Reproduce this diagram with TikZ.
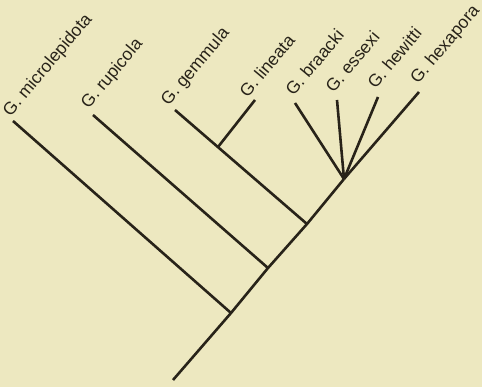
\documentclass[tikz,border=0pt]{standalone}
\usepackage{fontspec}
\setmainfont{Liberation Sans}
\usetikzlibrary{calc}
\definecolor{paper}{RGB}{237,232,192}
\definecolor{ink}{RGB}{40,35,25}
\begin{document}
\begin{tikzpicture}[x=1pt,y=1pt,
  branch/.style={draw=ink,line width=2.6pt},
  taxon/.style={anchor=base west,rotate=50,inner sep=0pt,text=ink,font=\fontsize{17.5}{17.5}\selectfont}]
\fill[paper] (0,0) rectangle (482,387);
\useasboundingbox (0,0) rectangle (482,387);
% internal nodes
\coordinate (root) at (173,7);
\coordinate (n1) at (231,74);
\coordinate (n2) at (268,119);
\coordinate (n3) at (307,163);
\coordinate (n4) at (344,208);
\coordinate (n5) at (218,240);
% tips
\coordinate (t1) at (13,266);
\coordinate (t2) at (93,272);
\coordinate (t3) at (175,277);
\coordinate (t4) at (255,287);
\coordinate (t5) at (295,284);
\coordinate (t6) at (337,287);
\coordinate (t7) at (378,290);
\coordinate (t8) at (419,295);
\draw[branch] (root) -- (n1) -- (n2) -- (n3) -- (n4);
\draw[branch] (n1) -- (t1);
\draw[branch] (n2) -- (t2);
\draw[branch] (n3) -- (t3);
\draw[branch] (n5) -- (t4);
\draw[branch] (n4) -- (t5);
\draw[branch] (n4) -- (t6);
\draw[branch] (n4) -- (t7);
\draw[branch] (n4) -- (t8);
% labels
\node[taxon] (l1) at ($(t1)+(-2.5,3.5)$) {G. microlepidota};
\node[taxon] (l2) at ($(t2)+(-4.5,5.5)$) {G. rupicola};
\node[taxon] (l3) at ($(t3)+(-6.5,3.5)$) {G. gemmula};
\node[taxon] (l4) at ($(t4)+(-7.5,1.5)$) {G. lineata};
\node[taxon] (l5) at ($(t5)+(-1.5,6)$) {G. braacki};
\node[taxon] (l6) at ($(t6)+(-3.5,6)$) {G. essexi};
\node[taxon] (l7) at ($(t7)+(-2.5,7)$) {G. hewitti};
\node[taxon] (l8) at ($(t8)+(-1,7)$) {G. hexapora};
\end{tikzpicture}
\end{document}
